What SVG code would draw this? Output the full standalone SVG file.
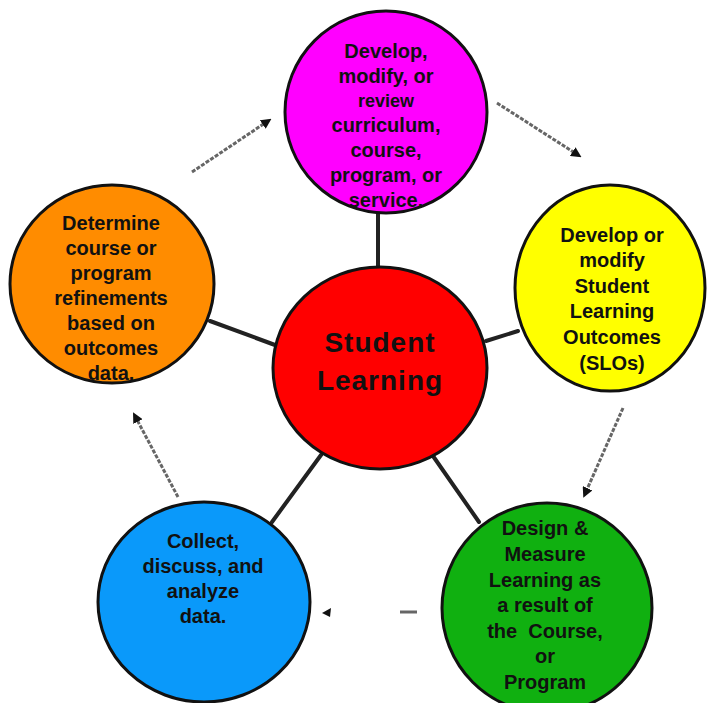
<svg xmlns="http://www.w3.org/2000/svg" width="707" height="703" viewBox="0 0 707 703">
<defs>
<style>
.node{stroke:#111;stroke-width:3}
.t{font-family:"Liberation Sans",Arial,sans-serif;font-weight:bold;font-size:20px;fill:#111;text-anchor:middle;white-space:pre}
.big{font-size:28px;letter-spacing:1px}
.link{stroke:#222;stroke-width:4;fill:none;stroke-linecap:round}
.arr{stroke:#666;stroke-width:3;fill:none;stroke-dasharray:4 1.5;marker-end:url(#ah)}
</style>
<marker id="ah" viewBox="0 0 10 10" refX="6" refY="5" markerWidth="3.5" markerHeight="3.5" orient="auto" markerUnits="strokeWidth">
<path d="M0,0 L10,5 L0,10 z" fill="#111"/>
</marker>
</defs>
<rect width="707" height="703" fill="#fff"/>
<g id="connectors">
<line class="link" x1="378" y1="212" x2="378" y2="270"/>
<line class="link" x1="486" y1="341" x2="518" y2="331"/>
<line class="link" x1="210" y1="321" x2="275" y2="345"/>
<line class="link" x1="321" y1="455" x2="272" y2="522"/>
<line class="link" x1="433" y1="456" x2="479" y2="522"/>
<line class="arr" x1="192" y1="172" x2="268" y2="121"/>
<line class="arr" x1="497" y1="103" x2="578" y2="155"/>
<line class="arr" x1="623" y1="408" x2="585" y2="494"/>
<line class="arr" x1="178" y1="497" x2="135" y2="416"/>
<line x1="400" y1="612" x2="417" y2="612" stroke="#666" stroke-width="3"/>
<path d="M322,613 L331,608 L330,617 z" fill="#111"/>
</g>
<g id="n-top">
<ellipse class="node" cx="386" cy="112" rx="101" ry="101" fill="#FF00FF"/>
<text class="t" x="386" y="58">Develop,</text>
<text class="t" x="386" y="83">modify, or</text>
<text class="t" x="386" y="107" style="font-size:18px">review</text>
<text class="t" x="386" y="132">curriculum,</text>
<text class="t" x="386" y="157">course,</text>
<text class="t" x="386" y="182">program, or</text>
<text class="t" x="386" y="207">service.</text>
</g>
<g id="n-right">
<ellipse class="node" cx="610" cy="288" rx="95" ry="103" fill="#FFFF00"/>
<text class="t" x="612" y="242">Develop or</text>
<text class="t" x="612" y="267">modify</text>
<text class="t" x="612" y="293">Student</text>
<text class="t" x="612" y="318">Learning</text>
<text class="t" x="612" y="344">Outcomes</text>
<text class="t" x="612" y="370">(SLOs)</text>
</g>
<g id="n-lowright">
<ellipse class="node" cx="547" cy="608" rx="105" ry="105" fill="#10B010"/>
<text class="t" x="545" y="535">Design &amp;</text>
<text class="t" x="545" y="561">Measure</text>
<text class="t" x="545" y="587">Learning as</text>
<text class="t" x="545" y="612">a result of</text>
<text class="t" x="545" y="638">the  Course,</text>
<text class="t" x="545" y="663">or</text>
<text class="t" x="545" y="689">Program</text>
</g>
<g id="n-lowleft">
<ellipse class="node" cx="204" cy="602" rx="106" ry="100" fill="#0A99FA"/>
<text class="t" x="203" y="548">Collect,</text>
<text class="t" x="203" y="573">discuss, and</text>
<text class="t" x="203" y="598">analyze</text>
<text class="t" x="203" y="623">data.</text>
</g>
<g id="n-left">
<ellipse class="node" cx="112" cy="284" rx="102" ry="99" fill="#FF8C00"/>
<text class="t" x="111" y="230">Determine</text>
<text class="t" x="111" y="255">course or</text>
<text class="t" x="111" y="280">program</text>
<text class="t" x="111" y="305">refinements</text>
<text class="t" x="111" y="330">based on</text>
<text class="t" x="111" y="355">outcomes</text>
<text class="t" x="111" y="380">data.</text>
</g>
<g id="n-center">
<ellipse class="node" cx="380" cy="368" rx="107" ry="101" fill="#FF0000"/>
<text class="t big" x="380" y="352">Student</text>
<text class="t big" x="380" y="390">Learning</text>
</g>
</svg>
